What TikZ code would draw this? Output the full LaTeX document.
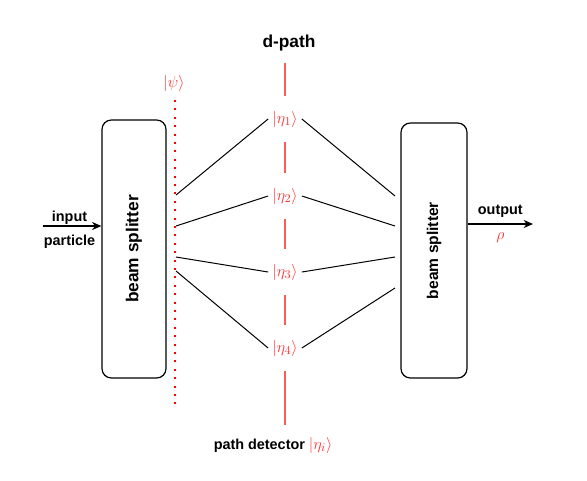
\documentclass[tikz,border=0pt]{standalone}
\usepackage[no-math]{fontspec}
\setmainfont{Liberation Sans}
\usetikzlibrary{arrows.meta}
\definecolor{pathred}{RGB}{255,51,51}
\definecolor{linered}{RGB}{255,90,90}
\tikzset{
  splitter/.style={draw, line width=0.9pt, rounded corners=7pt},
  tag/.style={font=\fontsize{10.8}{13}\selectfont\bfseries, inner sep=0.5pt},
  ket/.style={text=pathred, font=\fontsize{12.5}{15}\selectfont, inner sep=3pt},
  beam/.style={line width=0.75pt},
  arr/.style={line width=0.9pt, -{Stealth[length=7pt, width=6pt]}},
  dpathline/.style={draw=linered, line width=1.1pt, shorten <=8pt, shorten >=8pt},
  psiline/.style={draw=red, line width=1.5pt, dash pattern=on 1.5pt off 4.8pt}
}
\begin{document}
\begin{tikzpicture}[x=0.75pt, y=-0.75pt]
  \useasboundingbox (0,0) rectangle (587,480);
  \node[splitter, minimum width=48pt, minimum height=193.5pt] (bsL) at(134,249){};
  \node[splitter, minimum width=49.5pt, minimum height=191.25pt] (bsR) at(434,250.5){};
  \node[rotate=90, font=\fontsize{13}{15}\selectfont\bfseries] at(bsL){beam splitter};
  \node[rotate=90, font=\fontsize{11.7}{14}\selectfont\bfseries] at(bsR){beam splitter};
  \node[tag, font=\fontsize{13}{15}\selectfont\bfseries] (dpath) at(289,43){d-path};
  \node[tag] (detector) at(273,445){path detector {\fontsize{12.5}{15}\selectfont\color{pathred}$|\eta_i\rangle$}};
  \node[ket] (psi) at(174,83){$|\psi\rangle$};
  \node[ket] (eta1) at(285,119){$|\eta_1\rangle$};
  \node[ket] (eta2) at(285,196){$|\eta_2\rangle$};
  \node[ket] (eta3) at(285,272){$|\eta_3\rangle$};
  \node[ket] (eta4) at(285,348){$|\eta_4\rangle$};
  \coordinate (dtop) at(175,100);
  \coordinate (dbot) at(175,408);
  \draw[psiline] (dtop) -- (dbot);
  \draw[dpathline] (eta1 |- dpath.south) -- (eta1);
  \draw[dpathline] (eta1) -- (eta2);
  \draw[dpathline] (eta2) -- (eta3);
  \draw[dpathline] (eta3) -- (eta4);
  \draw[dpathline] (eta4) -- (eta4 |- detector.north);
  \foreach \i/\yl/\yr in {1/195/196, 2/226/226, 3/257/257, 4/271/288}{
    \coordinate (l\i) at(176,\yl);
    \coordinate (r\i) at(395,\yr);
    \draw[beam] (l\i) -- (eta\i.west);
    \draw[beam] (eta\i.east) -- (r\i);
  }
  \coordinate (inp) at(43,226);
  \coordinate (outp) at(533,224);
  \draw[arr] (inp) -- (inp -| bsL.west)
    node[midway, above, tag, xshift=-2pt]{input}
    node[midway, below=5.5pt, tag, xshift=-2pt]{particle};
  \draw[arr] (bsR.east |- outp) -- (outp)
    node[midway, above=4pt, tag]{output}
    node[midway, below=3pt, ket]{$\rho$};
\end{tikzpicture}
\end{document}
